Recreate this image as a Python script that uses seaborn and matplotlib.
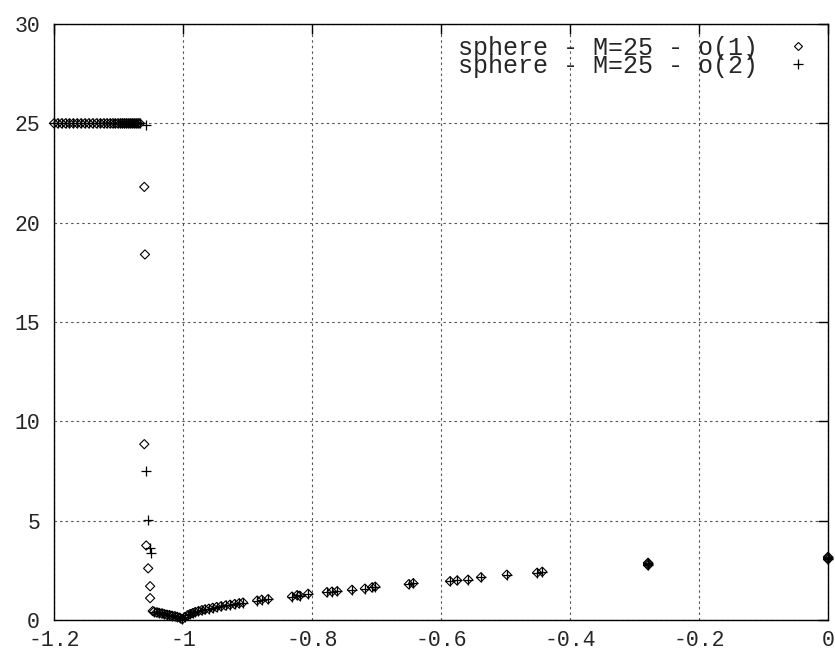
import numpy as np
import pandas as pd
import matplotlib
matplotlib.use("Agg")
import matplotlib.pyplot as plt
from matplotlib.lines import Line2D
import seaborn as sns

# ---------------- data ----------------
label1 = "sphere - M=25 - o(1)"
label2 = "sphere - M=25 - o(2)"

# plateau at y = 25 (both series)
top_x = [-1.200, -1.194, -1.188, -1.182, -1.176, -1.170, -1.164, -1.158, -1.152, -1.146,
         -1.140, -1.134, -1.128, -1.123, -1.118, -1.113, -1.109, -1.105, -1.101, -1.097,
         -1.094, -1.091, -1.088, -1.085, -1.082, -1.079, -1.076, -1.073, -1.070, -1.067]
top_y = [25.0] * len(top_x)

# steep drop, series o(1)
drop1_x = [-1.060, -1.059, -1.060, -1.057, -1.054, -1.051, -1.051, -1.047]
drop1_y = [21.8, 18.4, 8.85, 3.75, 2.6, 1.7, 1.1, 0.45]

# steep drop, series o(2)
drop2_x = [-1.058, -1.058, -1.055, -1.051, -1.050]
drop2_y = [24.9, 7.5, 5.05, 3.6, 3.35]

# low branch (both series)
curve_x = [-1.045, -1.041, -1.037, -1.033, -1.029, -1.025, -1.021, -1.017, -1.013, -1.009,
           -1.005, -1.001, -0.997, -0.993, -0.989, -0.985, -0.981, -0.976, -0.971, -0.966,
           -0.960, -0.954, -0.948, -0.941, -0.934, -0.927, -0.920, -0.913, -0.907, -0.885,
           -0.878, -0.868, -0.831, -0.823, -0.819, -0.806, -0.777, -0.769, -0.761, -0.738,
           -0.718, -0.707, -0.702, -0.650, -0.643, -0.586, -0.575, -0.558, -0.538, -0.498,
           -0.451, -0.443, -0.279, -0.279, -0.279, 0.0, 0.0, 0.0]
curve_y = [0.42, 0.38, 0.36, 0.33, 0.30, 0.27, 0.25, 0.22, 0.19, 0.16,
           0.12, 0.04, 0.15, 0.24, 0.30, 0.35, 0.40, 0.45, 0.49, 0.53,
           0.57, 0.61, 0.65, 0.69, 0.73, 0.77, 0.80, 0.84, 0.88, 0.98,
           1.02, 1.05, 1.18, 1.25, 1.22, 1.32, 1.40, 1.43, 1.45, 1.52,
           1.58, 1.64, 1.68, 1.80, 1.85, 1.95, 1.99, 2.03, 2.15, 2.28,
           2.38, 2.43, 2.75, 2.82, 2.88, 3.05, 3.12, 3.18]

x_ticks = [-1.2, -1.0, -0.8, -0.6, -0.4, -0.2, 0.0]
x_tick_labels = ["-1.2", "-1", "-0.8", "-0.6", "-0.4", "-0.2", "0"]
y_ticks = [0, 5, 10, 15, 20, 25, 30]
y_tick_labels = ["0", "5", "10", "15", "20", "25", "30"]

df1 = pd.DataFrame({"x": top_x + drop1_x + curve_x, "y": top_y + drop1_y + curve_y})
df2 = pd.DataFrame({"x": top_x + drop2_x + curve_x, "y": top_y + drop2_y + curve_y})

# ---------------- style ----------------
sns.set_style("white")
plt.rcParams["font.family"] = ["Liberation Mono", "DejaVu Sans Mono"]
plt.rcParams["axes.unicode_minus"] = False

fig = plt.figure(figsize=(8.35, 6.52), dpi=100)
ax = fig.add_axes([54 / 835, 32 / 652, 774 / 835, 596 / 652])

sns.scatterplot(data=df1, x="x", y="y", ax=ax, marker="D", s=22,
                facecolor="none", edgecolor="black", linewidth=0.8,
                clip_on=False, zorder=3, legend=False)
sns.scatterplot(data=df2, x="x", y="y", ax=ax, marker="+", s=48,
                color="black", linewidth=0.9,
                clip_on=False, zorder=4, legend=False)

ax.set_xlim(-1.2, 0.0)
ax.set_ylim(0, 30)
ax.set_xticks(x_ticks)
ax.set_xticklabels(x_tick_labels)
ax.set_yticks(y_ticks)
ax.set_yticklabels(y_tick_labels)
ax.set_xlabel("")
ax.set_ylabel("")

ax.grid(True, color="#555555", linestyle=(0, (2.2, 2.8)), linewidth=0.8)
ax.set_axisbelow(True)
for sp in ax.spines.values():
    sp.set_visible(True)
    sp.set_color("black")
    sp.set_linewidth(1.0)

ax.tick_params(axis="both", which="major", direction="in", length=7, width=1,
               color="black", top=True, right=True, labelsize=15.5)
ax.tick_params(axis="x", pad=7)
ax.tick_params(axis="y", pad=10)

handles = [
    Line2D([], [], linestyle="none", marker="D", markersize=4.3,
           markerfacecolor="none", markeredgecolor="black", markeredgewidth=0.8),
    Line2D([], [], linestyle="none", marker="+", markersize=6.5,
           color="black", markeredgewidth=0.9),
]
leg = ax.legend(handles, [label1, label2], loc="upper right",
                bbox_to_anchor=(1.0 + 10 / 774, 1.0 + 13 / 596), frameon=False,
                markerfirst=False,
                prop={"family": ["Liberation Mono"], "size": 18},
                labelspacing=-0.25, handlelength=1.2, handletextpad=1.0,
                borderaxespad=0.6)

fig.savefig("out.png", dpi=100)
